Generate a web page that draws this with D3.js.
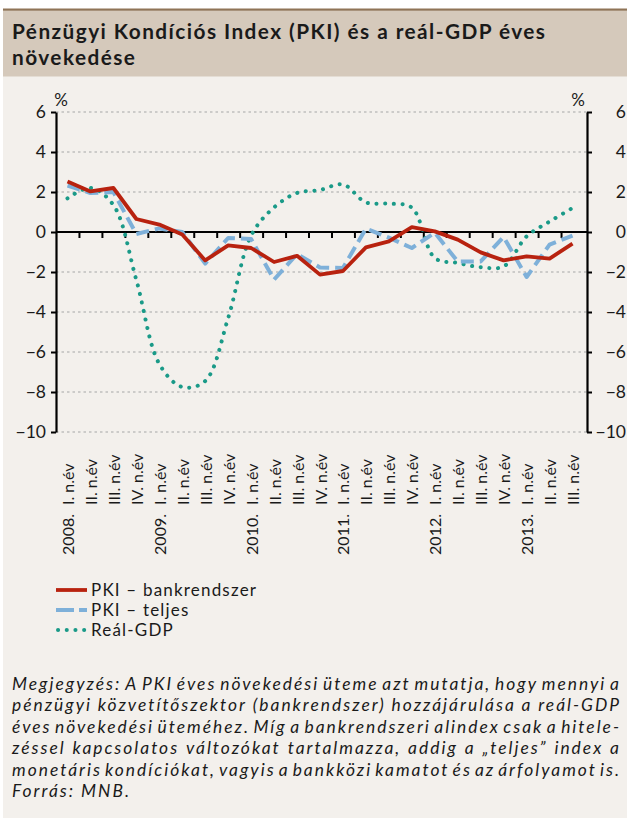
<!DOCTYPE html>
<html><head><meta charset="utf-8">
<script src="https://cdn.jsdelivr.net/npm/d3@7"></script>
<style>
html,body{margin:0;padding:0;background:#fff;}
svg{display:block;}
text{font-family:Lato,"Open Sans",sans-serif;fill:#1a1a1a;}
</style></head><body>
<script>
// ---------- data ----------
const quarterLabels = ["I. n.év","II. n.év","III. n.év","IV. n.év","I. n.év","II. n.év","III. n.év","IV. n.év","I. n.év","II. n.év","III. n.év","IV. n.év","I. n.év","II. n.év","III. n.év","IV. n.év","I. n.év","II. n.év","III. n.év","IV. n.év","I. n.év","II. n.év","III. n.év"];
const yearLabels = ["2008.","","","","2009.","","","","2010.","","","","2011.","","","","2012.","","","","2013.","",""];
const pkiBank = [2.53,2.03,2.2,0.65,0.37,-0.13,-1.42,-0.67,-0.8,-1.5,-1.19,-2.13,-1.95,-0.77,-0.47,0.24,0.03,-0.38,-1.02,-1.42,-1.22,-1.33,-0.58];
const pkiTeljes = [2.32,1.95,2.0,-0.1,0.18,0.0,-1.58,-0.3,-0.35,-2.38,-1.1,-1.77,-1.8,0.17,-0.28,-0.8,-0.03,-1.48,-1.47,-0.25,-2.25,-0.63,-0.18];
const realGdp = [1.68,2.2,1.35,-2.4,-6.6,-7.75,-7.45,-4.3,-0.18,1.23,1.95,2.1,2.38,1.48,1.42,1.22,-1.3,-1.55,-1.76,-1.72,-0.22,0.52,1.2];
const yTicks = [-10,-8,-6,-4,-2,0,2,4,6];
const seriesNames = ["PKI – bankrendszer","PKI – teljes","Reál-GDP"];
const titleLines = ["Pénzügyi Kondíciós Index (PKI) és a reál-GDP éves","növekedése"];
const noteLines = [
 "Megjegyzés: A PKI éves növekedési üteme azt mutatja, hogy mennyi a",
 "pénzügyi közvetítőszektor (bankrendszer) hozzájárulása a reál-GDP",
 "éves növekedési üteméhez. Míg a bankrendszeri alindex csak a hitele-",
 "zéssel kapcsolatos változókat tartalmazza, addig a „teljes” index a",
 "monetáris kondíciókat, vagyis a bankközi kamatot és az árfolyamot is.",
 "Forrás: MNB."
];

// ---------- layout ----------
const W = 627, H = 818;
const svg = d3.select("body").append("svg").attr("width", W).attr("height", H);

svg.append("rect").attr("x",0).attr("y",0).attr("width",W).attr("height",H).attr("fill","#ffffff");
svg.append("rect").attr("x",3).attr("y",9).attr("width",W-3).attr("height",H-9).attr("fill","#f3f0ec");
svg.append("rect").attr("x",3).attr("y",10.5).attr("width",W-3).attr("height",66).attr("fill","#d5c9bb");
svg.append("rect").attr("x",3).attr("y",8.5).attr("width",W-3).attr("height",2.2).attr("fill","#8f7457");

// widen a text to a target width using letter-spacing (keeps font-size, so line boxes don't collide)
function fitSpacing(sel, target){
  const txt = sel.text();
  const w = sel.node().getComputedTextLength();
  const ls = Math.max(0, (target - w) / Math.max(1, txt.length - 1));
  sel.attr("letter-spacing", ls.toFixed(3));
  return ls;
}

// title
const tfs = 20.8;
const t1 = svg.append("text").attr("x",12).attr("y",39).attr("font-weight","bold").attr("font-size",tfs).text(titleLines[0]);
const tls = fitSpacing(t1, 533);
svg.append("text").attr("x",12).attr("y",64.5).attr("font-weight","bold").attr("font-size",tfs)
  .attr("letter-spacing",tls.toFixed(3)).text(titleLines[1]);

// scales
const x = d3.scaleBand().domain(d3.range(quarterLabels.length)).range([56,584]).padding(0);
const xb = d3.scaleLinear().domain([0,quarterLabels.length]).range([56,584]);
const y = d3.scaleLinear().domain([-10,6]).range([432,112]);
const cx = i => x(i) + x.bandwidth()/2;
const axisRightX = 587;

// gridlines
svg.append("g").selectAll("line").data(yTicks.filter(d=>d!==0)).join("line")
  .attr("x1",56).attr("x2",axisRightX).attr("y1",d=>y(d)).attr("y2",d=>y(d))
  .attr("stroke","#a5a5a5").attr("stroke-width",1.2).attr("stroke-dasharray","2.5,3");

const fmt = d3.format("d");
const gl = svg.append("g").attr("transform","translate(56,0)")
  .call(d3.axisLeft(y).tickValues(yTicks).tickSize(5).tickSizeOuter(0).tickPadding(5).tickFormat(fmt));
const gr = svg.append("g").attr("transform",`translate(${axisRightX},0)`)
  .call(d3.axisRight(y).tickValues(yTicks).tickSize(5).tickSizeOuter(0).tickPadding(5).tickFormat(fmt));
gr.selectAll(".tick text").attr("text-anchor","end").attr("x",39);
[gl,gr].forEach(g=>{
  g.select(".domain").attr("stroke","#000").attr("stroke-width",2.2);
  g.selectAll(".tick line").attr("stroke","#000").attr("stroke-width",2);
  g.selectAll(".tick text").attr("font-size",17.5).attr("font-family","Lato, sans-serif").attr("fill","#1a1a1a");
});

// x axis (zero line) with ticks at band boundaries
const gx = svg.append("g").attr("transform",`translate(0,${y(0)})`)
  .call(d3.axisBottom(xb).tickValues(d3.range(1,quarterLabels.length)).tickSize(6).tickSizeOuter(0).tickFormat(""));
gx.select(".domain").remove();
gx.selectAll(".tick line").attr("stroke","#000").attr("stroke-width",2);
svg.append("line").attr("x1",56).attr("x2",axisRightX).attr("y1",y(0)).attr("y2",y(0)).attr("stroke","#000").attr("stroke-width",2.2);

// percent labels
svg.append("text").attr("x",61).attr("y",106).attr("text-anchor","middle").attr("font-size",17).text("%");
svg.append("text").attr("x",578).attr("y",106).attr("text-anchor","middle").attr("font-size",17).text("%");

// x labels
const xl = svg.append("g");
quarterLabels.forEach((q,i)=>{
  xl.append("text").attr("transform",`translate(${cx(i)},505) rotate(-90)`)
    .attr("text-anchor","start").attr("dominant-baseline","central").attr("font-size",16).text(q);
  if(yearLabels[i]) xl.append("text").attr("transform",`translate(${cx(i)},514) rotate(-90)`)
    .attr("text-anchor","end").attr("dominant-baseline","central").attr("font-size",16).text(yearLabels[i]);
});

// lines
const lineLin = d3.line().x((d,i)=>cx(i)).y(d=>y(d));
const lineSm = d3.line().x((d,i)=>cx(i)).y(d=>y(d)).curve(d3.curveCatmullRom.alpha(0.5));
const styles = [
  {data:pkiBank, gen:lineLin, stroke:"#b8220f", w:3.8, dash:null, cap:"butt"},
  {data:pkiTeljes, gen:lineLin, stroke:"#7eb0d9", w:4, dash:"13,6", cap:"butt"},
  {data:realGdp, gen:lineSm, stroke:"#1a9a88", w:4, dash:"0.1,8.6", cap:"round"}
];
[styles[2], styles[1], styles[0]].forEach(s=>{
  svg.append("path").datum(s.data).attr("d",s.gen).attr("fill","none")
    .attr("stroke",s.stroke).attr("stroke-width",s.w).attr("stroke-linejoin","round")
    .attr("stroke-linecap",s.cap).attr("stroke-dasharray",s.dash);
});

// legend
const lg = svg.append("g");
const legY = [590,610,630];
const legDash = [null,"18,5,8,100","0.1,8.6"];
styles.forEach((s,i)=>{
  lg.append("line").attr("x1",s.cap==="round"?58:56).attr("x2",87).attr("y1",legY[i]).attr("y2",legY[i])
    .attr("stroke",s.stroke).attr("stroke-width",s.w).attr("stroke-linecap",s.cap)
    .attr("stroke-dasharray", legDash[i]);
  lg.append("text").attr("x",91).attr("y",legY[i]+6).attr("font-size",17).text(seriesNames[i]);
});
const lls = fitSpacing(lg.select("text"), 165);
lg.selectAll("text").attr("letter-spacing", lls.toFixed(3));

// note (justified)
const ng = svg.append("g");
const noteX0 = 12, noteX1 = 621, noteY0 = 690, noteDy = 21.4;
const nfs = 17.4;
const probe = ng.append("text").attr("font-style","italic").attr("font-size",nfs).text(noteLines[5]);
const nls = fitSpacing(probe, 117);
probe.remove();
noteLines.forEach((line,li)=>{
  const yb = noteY0 + li*noteDy;
  if(li === noteLines.length-1){
    ng.append("text").attr("x",noteX0).attr("y",yb).attr("font-style","italic").attr("font-size",nfs)
      .attr("letter-spacing",nls.toFixed(3)).text(line);
    return;
  }
  const words = line.split(" ");
  const nodes = words.map(w=>ng.append("text").attr("y",yb).attr("font-style","italic").attr("font-size",nfs)
    .attr("letter-spacing",nls.toFixed(3)).text(w));
  const widths = nodes.map(n=>n.node().getComputedTextLength());
  const gap = (noteX1-noteX0-d3.sum(widths))/(words.length-1);
  let xx = noteX0;
  nodes.forEach((n,k)=>{ n.attr("x",xx); xx += widths[k]+gap; });
});
</script>
</body></html>
